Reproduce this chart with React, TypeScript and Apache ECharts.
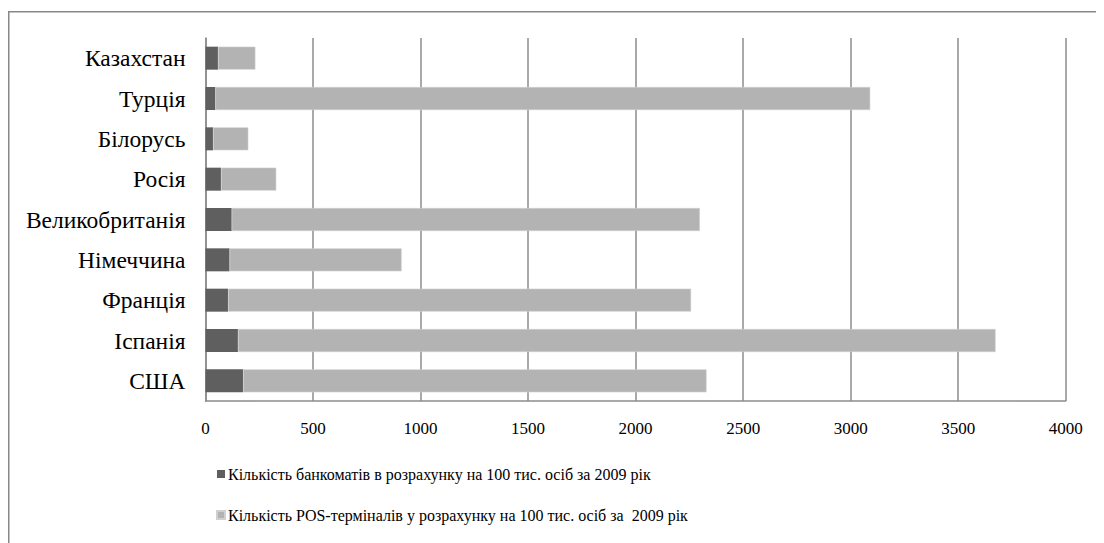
import React, { useEffect, useRef } from "react";
import * as echarts from "echarts";

const categories = ["США", "Іспанія", "Франція", "Німеччина", "Великобританія", "Росія", "Білорусь", "Турція", "Казахстан"];
const atmValues = [175, 151, 105, 112, 122, 72, 35, 46, 58];
const totalValues = [2330, 3674, 2258, 912, 2299, 329, 199, 3091, 232];
const posValues = totalValues.map((t, i) => t - atmValues[i]);
const seriesNames = [
  "Кількість банкоматів в розрахунку на 100 тис. осіб за 2009 рік",
  "Кількість POS-терміналів у розрахунку на 100 тис. осіб за  2009 рік",
];

const FONT = "Liberation Serif, serif";

export default function App() {
  const ref = useRef<HTMLDivElement>(null);
  useEffect(() => {
    if (!ref.current) return;
    const chart = echarts.init(ref.current, undefined, { renderer: "svg" });
    chart.setOption({
      animation: false,
      backgroundColor: "#ffffff",
      textStyle: { fontFamily: FONT },
      graphic: [
        {
          type: "rect",
          shape: { x: 0.75, y: 3.75, width: 3000, height: 3000 },
          style: { fill: "none", stroke: "#888888", lineWidth: 1.5 },
          silent: true,
        },
      ],
      grid: { left: 197.5, right: 30.3, top: 30, bottom: 142, containLabel: false },
      xAxis: {
        type: "value",
        min: 0,
        max: 4000,
        interval: 500,
        axisLine: { show: true, lineStyle: { color: "#8c8c8c", width: 1.5 } },
        axisTick: { show: false },
        splitLine: { show: true, lineStyle: { color: "#8c8c8c", width: 1.5 } },
        axisLabel: {
          color: "#000",
          fontSize: 17,
          fontFamily: FONT,
          margin: 19,
          formatter: (v: number) => String(v),
        },
      },
      yAxis: {
        type: "category",
        data: categories,
        axisLine: { show: true, lineStyle: { color: "#8c8c8c", width: 1.5 } },
        axisTick: { show: false },
        axisLabel: { color: "#000", fontSize: 23.5, fontFamily: FONT, margin: 20 },
      },
      legend: {
        orient: "vertical",
        left: 208,
        top: 458,
        padding: 0,
        itemWidth: 8,
        itemHeight: 8,
        itemGap: 25,
        icon: "rect",
        textStyle: { color: "#000", fontSize: 16, fontFamily: FONT, padding: [0, 0, 0, -2] },
        data: seriesNames,
      },
      series: [
        {
          name: seriesNames[0],
          type: "bar",
          stack: "total",
          data: atmValues,
          barWidth: 23,
          itemStyle: { color: "#5f5f5f" },
        },
        {
          name: seriesNames[1],
          type: "bar",
          stack: "total",
          data: posValues,
          barWidth: 23,
          itemStyle: { color: "#b3b3b3", borderColor: "#d0d0d0", borderWidth: 0.6 },
        },
      ],
    });
    return () => chart.dispose();
  }, []);
  return <div ref={ref} style={{ width: 1088, height: 535 }} />;
}
